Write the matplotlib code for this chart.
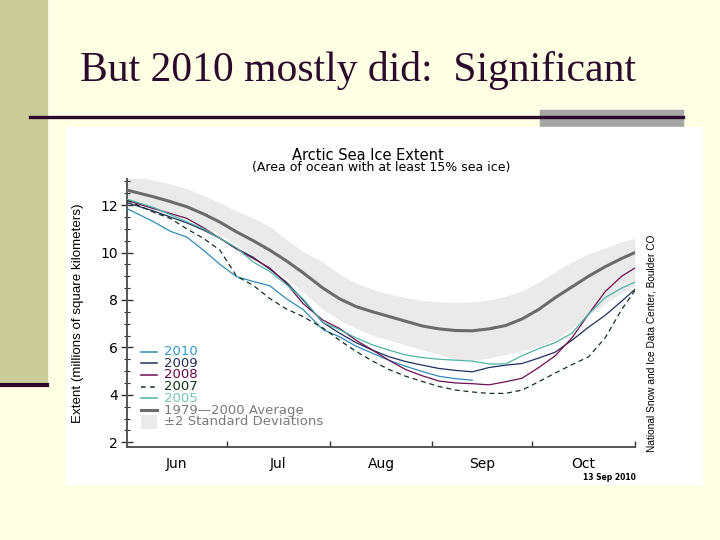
import matplotlib
matplotlib.use("Agg")
import matplotlib.pyplot as plt
from matplotlib.patches import Rectangle
from matplotlib.lines import Line2D
from matplotlib.ticker import MultipleLocator

# days since 1 June
days = [0, 8, 13, 18, 23, 28, 33, 38, 43, 48, 53, 59, 64, 69, 74, 79, 84,
        89, 94, 99, 104, 109, 114, 119, 124, 129, 134, 139, 144, 149, 153]

# extent, millions of km^2
avg_7900 = [12.63, 12.35, 12.15, 11.93, 11.63, 11.28, 10.87, 10.5, 10.1, 9.65, 9.15,
            8.5, 8.05, 7.72, 7.5, 7.3, 7.1, 6.9, 6.78, 6.71, 6.7, 6.78, 6.92, 7.2,
            7.6, 8.1, 8.55, 9.0, 9.4, 9.75, 10.0]
sd_upper = [13.3, 13.05, 12.9, 12.7, 12.4, 12.1, 11.75, 11.45, 11.1, 10.55, 10.05,
            9.6, 9.1, 8.7, 8.45, 8.25, 8.1, 7.98, 7.92, 7.9, 7.92, 8.0, 8.15, 8.4,
            8.75, 9.2, 9.6, 9.95, 10.2, 10.45, 10.6]
sd_lower = [12.1, 11.85, 11.65, 11.4, 11.1, 10.75, 10.3, 9.85, 9.4, 8.9, 8.35,
            7.6, 7.15, 6.8, 6.5, 6.3, 6.1, 5.9, 5.7, 5.5, 5.45, 5.55, 5.7, 5.85,
            6.05, 6.3, 6.8, 7.35, 7.85, 8.3, 8.6]
ext_2010 = [11.85, 11.3, 10.9, 10.65, 10.1, 9.5, 8.98, 8.78, 8.6, 8.05, 7.6,
            6.75, 6.45, 6.05, 5.75, 5.45, 5.2, 4.98, 4.78, 4.68, 4.62]
ext_2009 = [12.1, 11.75, 11.5, 11.25, 10.95, 10.6, 10.17, 9.8, 9.3, 8.75, 8.0,
            7.05, 6.6, 6.2, 5.88, 5.6, 5.4, 5.25, 5.11, 5.03, 4.97, 5.15, 5.25, 5.32,
            5.55, 5.8, 6.3, 6.85, 7.35, 7.95, 8.45]
ext_2008 = [12.2, 11.85, 11.65, 11.44, 11.05, 10.6, 10.15, 9.75, 9.35, 8.7, 7.85,
            7.15, 6.8, 6.3, 5.88, 5.45, 5.06, 4.8, 4.58, 4.5, 4.47, 4.42, 4.55, 4.7,
            5.15, 5.65, 6.4, 7.4, 8.35, 9.0, 9.35]
ext_2007 = [12.2, 11.7, 11.44, 11.0, 10.6, 10.1, 9.0, 8.62, 8.06, 7.62, 7.3,
            6.82, 6.3, 5.83, 5.42, 5.06, 4.78, 4.56, 4.35, 4.2, 4.12, 4.06, 4.06, 4.2,
            4.55, 4.92, 5.27, 5.6, 6.4, 7.6, 8.4]
ext_2005 = [12.25, 11.9, 11.6, 11.3, 11.0, 10.6, 10.2, 9.6, 9.2, 8.65, 8.05,
            7.05, 6.75, 6.4, 6.1, 5.88, 5.68, 5.57, 5.5, 5.46, 5.42, 5.3, 5.3, 5.65,
            5.95, 6.2, 6.6, 7.4, 8.1, 8.5, 8.75]

month_starts = [30, 61, 92, 122, 153]
month_mids = [15, 45.5, 76.5, 107, 137.5]
month_labels = ["Jun", "Jul", "Aug", "Sep", "Oct"]

years = [("2010", ext_2010, "#2f8cb8", "#3399cc", "-"),
         ("2009", ext_2009, "#1f2f5f", "#1e2a55", "-"),
         ("2008", ext_2008, "#6b1050", "#660044", "-"),
         ("2007", ext_2007, "#14301e", "#0b3312", (0, (4, 3))),
         ("2005", ext_2005, "#4fb3a3", "#77c4b0", "-")]

BG = "#FFFFE6"
DARK = "#2B0A2B"
BAND = "#eaeaea"

fig = plt.figure(figsize=(7.2, 5.4), dpi=100)
fig.patch.set_facecolor(BG)

def fx(px):
    return px / 720.0

def fy(py):
    return 1 - py / 540.0

# slide decoration
fig.patches.append(Rectangle((0, fy(383)), fx(47), 383 / 540.0, transform=fig.transFigure,
                             color="#CCCC99", zorder=0))
fig.add_artist(Line2D([0, fx(47)], [fy(384.5), fy(384.5)], transform=fig.transFigure,
                      color=DARK, lw=3))
fig.patches.append(Rectangle((fx(540), fy(126)), fx(143), 16 / 540.0, transform=fig.transFigure,
                             color="#A6A6A6", zorder=0))
fig.add_artist(Line2D([fx(30), fx(683)], [fy(117), fy(117)], transform=fig.transFigure,
                      color=DARK, lw=2.4))
fig.text(fx(80), fy(70), "But 2010 mostly did:  Significant", fontsize=30,
         family="Liberation Serif", color=DARK, va="center", ha="left")

# white chart canvas
fig.patches.append(Rectangle((fx(66), fy(484)), fx(636), 357 / 540.0, transform=fig.transFigure,
                             color="white", zorder=0))

ax = fig.add_axes([fx(127), fy(447), fx(508), 268 / 540.0])
ax.set_zorder(2)
ax.set_facecolor("white")
ax.fill_between(days, sd_lower, sd_upper, color=BAND, lw=0, zorder=1)
ax.plot(days, avg_7900, color="#6b6b6b", lw=2.2, zorder=3)
for name, vals, lc, tc, ls in years:
    ax.plot(days[:len(vals)], vals, color=lc, lw=0.9, ls=ls, zorder=4)

ax.set_xlim(0, 153)
ax.set_ylim(1.8, 13.1)
for s in ["top", "right"]:
    ax.spines[s].set_visible(False)
for s in ["left", "bottom"]:
    ax.spines[s].set_color("#555555")
    ax.spines[s].set_linewidth(1.4)

ax.set_yticks([2, 4, 6, 8, 10, 12])
ax.yaxis.set_minor_locator(MultipleLocator(0.5))
ax.tick_params(axis="y", which="major", direction="inout", length=9, width=1,
               color="#333333", labelsize=10, pad=2)
ax.tick_params(axis="y", which="minor", direction="inout", length=5, width=0.8,
               color="#333333")
ax.set_xticks(month_starts)
ax.set_xticklabels([""] * len(month_starts))
ax.set_xticks(month_mids, minor=True)
ax.set_xticklabels(month_labels, minor=True)
ax.tick_params(axis="x", which="major", direction="in", length=4, width=1, color="#333333")
ax.tick_params(axis="x", which="minor", length=0, labelsize=10, pad=7)
for lab in ax.get_xticklabels(minor=True) + ax.get_yticklabels():
    lab.set_family("DejaVu Sans")

ax.set_ylabel("Extent (millions of square kilometers)", family="Liberation Sans",
              fontsize=9.6, labelpad=12)

fig.text(fx(368), fy(155.5), "Arctic Sea Ice Extent", ha="center", va="center",
         fontsize=10.5, family="DejaVu Sans")
fig.text(fx(381), fy(168), "(Area of ocean with at least 15% sea ice)", ha="center",
         va="center", fontsize=9, family="DejaVu Sans")
fig.text(fx(651), fy(343), "National Snow and Ice Data Center, Boulder CO", rotation=90,
         ha="center", va="center", fontsize=7.3, family="Liberation Sans")
fig.text(fx(609), fy(478), "13 Sep 2010", ha="center", va="center", fontsize=5.5,
         family="DejaVu Sans", weight="bold")

# legend, drawn in axes fractions
def axx(px):
    return (px - 127) / 508.0

def axy(py):
    return (447 - py) / 268.0

row_y = [351.5, 363.2, 375, 386.7, 398.4, 410.1, 421.8]
for i, (name, vals, lc, tc, ls) in enumerate(years):
    ax.add_line(Line2D([axx(141), axx(157)], [axy(row_y[i])] * 2, transform=ax.transAxes,
                       color=lc, lw=1.1, ls=ls if ls == "-" else (0, (3, 3))))
    ax.text(axx(164), axy(row_y[i]), name, transform=ax.transAxes, color=tc,
            fontsize=9.5, va="center", ha="left", family="DejaVu Sans")
ax.add_line(Line2D([axx(141), axx(157)], [axy(row_y[5])] * 2, transform=ax.transAxes,
                   color="#6b6b6b", lw=2.2))
ax.text(axx(164), axy(row_y[5]), "1979\u20142000 Average", transform=ax.transAxes,
        color="#7a7a7a", fontsize=9.5, va="center", ha="left", family="DejaVu Sans")
ax.add_patch(Rectangle((axx(141), axy(429)), 16 / 508.0, 14 / 268.0, transform=ax.transAxes,
                       color=BAND, lw=0))
ax.text(axx(164), axy(row_y[6]), "\u00b12 Standard Deviations", transform=ax.transAxes,
        color="#7a7a7a", fontsize=9.5, va="center", ha="left", family="DejaVu Sans")

fig.savefig("out.png", dpi=100, facecolor=BG)
